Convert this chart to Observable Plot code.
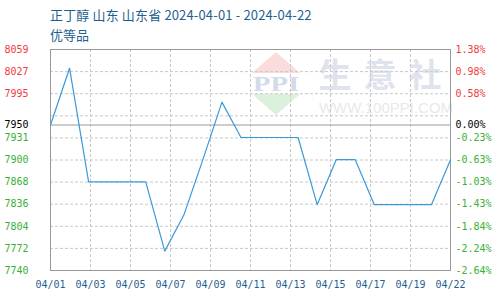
<!DOCTYPE html>
<html>
<head>
<meta charset="utf-8">
<script src="https://cdn.jsdelivr.net/npm/d3@7"></script>
<script src="https://cdn.jsdelivr.net/npm/@observablehq/plot@0.6"></script>
<style>
  html, body { margin: 0; padding: 0; background: #fff; }
  #wrap { position: relative; width: 500px; height: 300px; overflow: hidden; }
  #wrap .title, #wrap .subtitle {
    position: absolute; left: 50px; font: 13px "Noto Sans CJK SC", "Noto Sans", sans-serif;
    color: #1f5f91; white-space: nowrap; line-height: 1;
  }
  #wrap .title { top: 8px; letter-spacing: 0.15px; }
  #wrap .subtitle { top: 28px; }
  #mark { position: absolute; left: 0; top: 0; }
  #chart { position: absolute; left: 0; top: 0; }
</style>
</head>
<body>
<div id="wrap">
  <svg id="mark" width="500" height="300">
    <!-- site watermark -->
    <polygon points="276,52 300,73 252,73" fill="#fbdcdc"/>
    <text x="253" y="91" textLength="46" lengthAdjust="spacingAndGlyphs" font-family="Liberation Serif, serif" font-weight="bold" font-size="21" fill="#d3daea">PPI</text>
    <polygon points="252,94 300,94 276,115" fill="#dcf1dc"/>
    <text x="386" y="87" text-anchor="middle" font-family="Noto Sans CJK SC" font-weight="bold" font-size="33" letter-spacing="12" fill="#dfe3ee">生意社</text>
    <text x="386" y="113" text-anchor="middle" font-family="Liberation Sans, sans-serif" font-size="15" fill="#e9e9e9">WWW.100PPI.COM</text>
  </svg>
  <div id="chart"></div>
  <div class="title">正丁醇 山东 山东省 2024-04-01 - 2024-04-22</div>
  <div class="subtitle">优等品</div>
</div>
<script>
// Daily price, 正丁醇 (山东), yuan/ton
const dates = [
  "2024-04-01","2024-04-02","2024-04-03","2024-04-04","2024-04-05","2024-04-06",
  "2024-04-07","2024-04-08","2024-04-09","2024-04-10","2024-04-11","2024-04-12",
  "2024-04-13","2024-04-14","2024-04-15","2024-04-16","2024-04-17","2024-04-18",
  "2024-04-19","2024-04-20","2024-04-21","2024-04-22"
];
const prices = [
  7950, 8032, 7868, 7868, 7868, 7868,
  7768, 7820, 7900, 7983, 7932, 7932,
  7932, 7932, 7835, 7900, 7900, 7835,
  7835, 7835, 7835, 7900
];

// Axis range and reference price (first day)
const yMin = 7740;
const yMax = 8059;
const basePrice = 7950;

// Tick labels, bottom to top; the step next to the base line carries no label
const leftLabels  = ["7740","7772","7804","7836","7868","7900","7931",null,"7995","8027","8059"];
const rightLabels = ["-2.64%","-2.24%","-1.84%","-1.43%","-1.03%","-0.63%","-0.23%",null,"0.58%","0.98%","1.38%"];
const baseLeftLabel = "7950";
const baseRightLabel = "0.00%";
const dateLabels = ["04/01","04/03","04/05","04/07","04/09","04/11","04/13","04/15","04/17","04/19","04/22"];

const parse = d3.utcParse("%Y-%m-%d");
const data = dates.map((d, i) => ({date: parse(d), price: prices[i]}));

const start = data[0].date, end = data[data.length - 1].date;
const xTicks = dateLabels.map((_, k) => new Date(+start + k * (end - start) / (dateLabels.length - 1)));
const yTicks = leftLabels.map((_, k) => yMin + k * (yMax - yMin) / (leftLabels.length - 1));

const yLabels = yTicks.map((v, i) => ({v, left: leftLabels[i], right: rightLabels[i], up: v > basePrice}))
  .filter(d => d.left !== null);
const upLabels = yLabels.filter(d => d.up);
const downLabels = yLabels.filter(d => !d.up);

const red = "#f23a3a", green = "#37b137", ink = "#1f5f91";
const font = {fontFamily: "DejaVu Sans Mono, monospace", fontSize: 10};

const chart = Plot.plot({
  width: 500,
  height: 300,
  marginLeft: 50,
  marginRight: 50,
  marginTop: 49,
  marginBottom: 30,
  style: {background: "transparent", fontFamily: "DejaVu Sans Mono, monospace", fontSize: "10px"},
  x: {type: "utc", domain: [start, end], axis: null},
  y: {domain: [yMin, yMax], axis: null},
  marks: [
    Plot.ruleY(yTicks, {stroke: "#c8c8c8", strokeDasharray: "3,2"}),
    Plot.ruleX(xTicks, {stroke: "#c8c8c8", strokeDasharray: "3,2"}),
    Plot.ruleY([basePrice], {stroke: "#999"}),
    Plot.frame({stroke: "#999"}),
    Plot.line(data, {x: "date", y: "price", stroke: "#3a9ad9", strokeWidth: 1.2}),
    // left price labels
    Plot.text(upLabels, {y: "v", text: "left", frameAnchor: "left", textAnchor: "end", dx: -22, fill: red, ...font}),
    Plot.text(downLabels, {y: "v", text: "left", frameAnchor: "left", textAnchor: "end", dx: -22, fill: green, ...font}),
    Plot.text([basePrice], {y: d => d, text: () => baseLeftLabel, frameAnchor: "left", textAnchor: "end", dx: -22, fill: "#000", ...font}),
    // right change labels
    Plot.text(upLabels, {y: "v", text: "right", frameAnchor: "right", textAnchor: "start", dx: 5, fill: red, ...font}),
    Plot.text(downLabels, {y: "v", text: "right", frameAnchor: "right", textAnchor: "start", dx: 5, fill: green, ...font}),
    Plot.text([basePrice], {y: d => d, text: () => baseRightLabel, frameAnchor: "right", textAnchor: "start", dx: 5, fill: "#000", ...font}),
    // date labels
    Plot.text(xTicks, {x: d => d, text: (d, i) => dateLabels[i], frameAnchor: "bottom", dy: 17, fill: ink, ...font})
  ]
});
document.getElementById("chart").appendChild(chart);
</script>
</body>
</html>
